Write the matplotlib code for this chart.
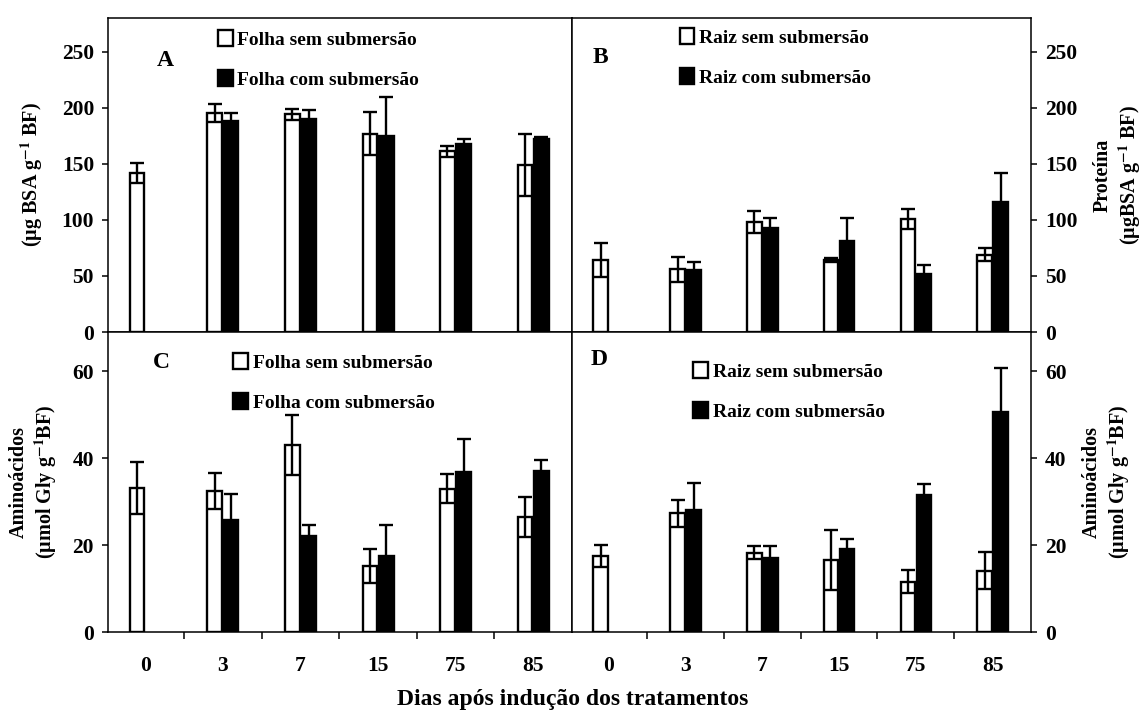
import numpy as np
import matplotlib
matplotlib.use("Agg")
import matplotlib.pyplot as plt
from matplotlib.patches import Patch

plt.rcParams['font.family'] = ['Liberation Serif', 'DejaVu Serif']
plt.rcParams['font.weight'] = 'bold'
plt.rcParams['axes.labelweight'] = 'bold'
plt.rcParams['mathtext.fontset'] = 'stix'

dias = ['0', '3', '7', '15', '75', '85']

# A - proteina folha
prot_folha_sem = [142, 195, 194, 177, 161, 149]
prot_folha_sem_err = [9, 8, 5, 19, 5, 28]
prot_folha_com = [np.nan, 188, 190, 175, 168, 172]
prot_folha_com_err = [np.nan, 7, 8, 35, 4, 2]

# B - proteina raiz
prot_raiz_sem = [64, 56, 98, 64, 101, 69]
prot_raiz_sem_err = [15, 11, 10, 2, 9, 6]
prot_raiz_com = [np.nan, 55, 93, 81, 52, 116]
prot_raiz_com_err = [np.nan, 7, 9, 21, 8, 26]

# C - aminoacidos folha
amino_folha_sem = [33.1, 32.4, 43.0, 15.2, 33.0, 26.5]
amino_folha_sem_err = [6.0, 4.2, 7.0, 3.9, 3.4, 4.6]
amino_folha_com = [np.nan, 25.7, 22.0, 17.4, 36.8, 37.0]
amino_folha_com_err = [np.nan, 6.0, 2.6, 7.2, 7.5, 2.5]

# D - aminoacidos raiz
amino_raiz_sem = [17.4, 27.3, 18.2, 16.6, 11.6, 14.1]
amino_raiz_sem_err = [2.5, 3.1, 1.5, 6.9, 2.6, 4.3]
amino_raiz_com = [np.nan, 28.0, 17.0, 19.0, 31.5, 50.6]
amino_raiz_com_err = [np.nan, 6.2, 2.8, 2.3, 2.5, 10.2]

W, H = 1146, 722
fig = plt.figure(figsize=(W / 100, H / 100), dpi=100)

def px(x0, y0, x1, y1):
    return [x0 / W, 1 - y1 / H, (x1 - x0) / W, (y1 - y0) / H]

axA = fig.add_axes(px(108, 18, 572, 332))
axB = fig.add_axes(px(572, 18, 1031, 332))
axC = fig.add_axes(px(108, 332, 572, 632))
axD = fig.add_axes(px(572, 332, 1031, 632))

x = np.arange(len(dias))
bw = 0.19
off = 0.105

def draw(ax, sem, sem_err, com, com_err, ylim, yticks, lab_sem, lab_com,
         letter, lpos, legpos, right=False, xlabels=False):
    ax.bar(x - off, sem, bw, color='white', edgecolor='black', linewidth=1.7, zorder=2)
    ax.bar(x + off, com, bw, color='black', edgecolor='black', linewidth=1.7, zorder=2)
    ax.errorbar(x - off, sem, yerr=sem_err, fmt='none', ecolor='black',
                elinewidth=1.7, capsize=5, capthick=1.7, zorder=3)
    ax.errorbar(x + off, com, yerr=com_err, fmt='none', ecolor='black',
                elinewidth=1.7, capsize=5, capthick=1.7, zorder=3)
    ax.set_xlim(-0.48, 5.5)
    ax.set_ylim(*ylim)
    ax.set_yticks(yticks)
    for s in ax.spines.values():
        s.set_linewidth(1.1)
    ax.tick_params(axis='y', direction='out', length=4, width=1.1,
                   labelsize=15.5, pad=6)
    if right:
        ax.yaxis.tick_right()
        ax.yaxis.set_label_position('right')
    ax.set_xticks(x)
    ax.set_xticks(np.arange(0.5, 5, 1), minor=True)
    if xlabels:
        ax.set_xticklabels(dias, fontsize=15.5)
        ax.tick_params(axis='x', which='major', length=0, pad=17)
        ax.tick_params(axis='x', which='minor', direction='out', length=5, width=1.1)
    else:
        ax.set_xticklabels([])
        ax.tick_params(axis='x', which='both', length=0)
    ax.text(lpos[0], lpos[1], letter, transform=ax.transAxes, fontsize=17,
            ha='center', va='center')
    handles = [Patch(facecolor='white', edgecolor='black', linewidth=1.7),
               Patch(facecolor='black', edgecolor='black', linewidth=1.7)]
    ax.legend(handles, [lab_sem, lab_com], loc='upper left',
              bbox_to_anchor=legpos, frameon=False, fontsize=14,
              handlelength=0.75, handleheight=0.9, handletextpad=0.25,
              labelspacing=1.1, borderpad=0, borderaxespad=0)

draw(axA, prot_folha_sem, prot_folha_sem_err, prot_folha_com, prot_folha_com_err,
     (0, 280), [0, 50, 100, 150, 200, 250], 'Folha sem submersão',
     'Folha com submersão', 'A', (0.123, 0.866), (0.237, 0.962))
draw(axB, prot_raiz_sem, prot_raiz_sem_err, prot_raiz_com, prot_raiz_com_err,
     (0, 280), [0, 50, 100, 150, 200, 250], 'Raiz sem submersão',
     'Raiz com submersão', 'B', (0.063, 0.873), (0.235, 0.968), right=True)
draw(axC, amino_folha_sem, amino_folha_sem_err, amino_folha_com, amino_folha_com_err,
     (0, 69), [0, 20, 40, 60], 'Folha sem submersão',
     'Folha com submersão', 'C', (0.114, 0.9), (0.27, 0.93), xlabels=True)
draw(axD, amino_raiz_sem, amino_raiz_sem_err, amino_raiz_com, amino_raiz_com_err,
     (0, 69), [0, 20, 40, 60], 'Raiz sem submersão',
     'Raiz com submersão', 'D', (0.059, 0.907), (0.264, 0.9), right=True, xlabels=True)

axA.set_ylabel('(µg BSA g$^{\\mathbf{-1}}$ BF)', fontsize=14.5, labelpad=12)
axB.set_ylabel('Proteína\n(µgBSA g$^{\\mathbf{-1}}$ BF)', fontsize=14.5, labelpad=11,
               rotation=90)
axC.set_ylabel('Aminoácidos\n(µmol Gly g$^{\\mathbf{-1}}$BF)', fontsize=14.5, labelpad=10)
axD.set_ylabel('Aminoácidos\n(µmol Gly g$^{\\mathbf{-1}}$BF)', fontsize=14.5, labelpad=11,
               rotation=90)

fig.text(573 / W, 1 - 700 / H, 'Dias após indução dos tratamentos',
         ha='center', va='center', fontsize=17)

fig.savefig('out.png', dpi=100)
